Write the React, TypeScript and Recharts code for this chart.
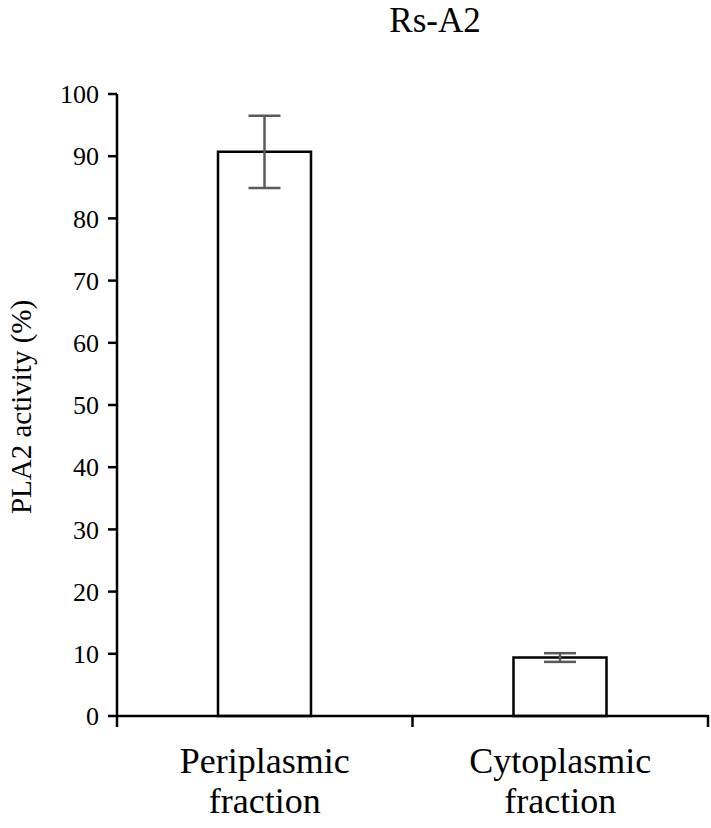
// Rs-A2 PLA2 活性柱状图（周质 vs 胞质）
import { BarChart, Bar, XAxis, YAxis, ErrorBar } from 'recharts'

const categories = ['Periplasmic fraction', 'Cytoplasmic fraction']
const activity = [90.7, 9.4]
const errors = [5.8, 0.7]
const yTicks = [0, 10, 20, 30, 40, 50, 60, 70, 80, 90, 100]

const data = categories.map((name, i) => ({ name, value: activity[i], err: errors[i] }))

const FONT = '"Liberation Serif", "Times New Roman", serif'

// 分类标签两行显示，刻度线画在分类边界上（由轴宽 / 分类数推出）
function CategoryTick(props: any) {
  const { x, y, payload, index, width, visibleTicksCount } = props
  const band = width / (visibleTicksCount || categories.length)
  const [l1, l2] = String(payload.value).split(' ')
  const isLast = index === (visibleTicksCount || categories.length) - 1
  return (
    <g>
      <line x1={x - band / 2} y1={y - 1} x2={x - band / 2} y2={y + 11} stroke="#000" strokeWidth={2.5} />
      {isLast && (
        <line x1={x + band / 2} y1={y - 1} x2={x + band / 2} y2={y + 11} stroke="#000" strokeWidth={2.5} />
      )}
      <text x={x} y={y + 57} textAnchor="middle" fontFamily={FONT} fontSize={36} fill="#000">{l1}</text>
      <text x={x} y={y + 97} textAnchor="middle" fontFamily={FONT} fontSize={36} fill="#000">{l2}</text>
    </g>
  )
}

function YLabel(props: any) {
  const { viewBox } = props
  const cx = 31
  const cy = viewBox.y + viewBox.height / 2 + 2
  return (
    <text x={cx} y={cy} transform={`rotate(-90, ${cx}, ${cy})`} textAnchor="middle"
      fontFamily={FONT} fontSize={29} fill="#000">
      PLA2 activity (%)
    </text>
  )
}

export default function App() {
  return (
    <div style={{ position: 'relative', width: 711, height: 828 }}>
      <style>{`body{margin:0}`}</style>
      <BarChart
        width={711}
        height={828}
        data={data}
        margin={{ top: 94, right: 3, left: 0, bottom: 0 }}
      >
        <XAxis
          dataKey="name"
          height={112}
          interval={0}
          axisLine={{ stroke: '#000', strokeWidth: 2.5 }}
          tickLine={false}
          tickSize={0}
          tickMargin={0}
          tick={<CategoryTick />}
        />
        <YAxis
          domain={[0, 100]}
          ticks={yTicks}
          interval={0}
          width={117}
          axisLine={{ stroke: '#000', strokeWidth: 2.5 }}
          tickLine={{ stroke: '#000', strokeWidth: 2.5 }}
          tickSize={9}
          tickMargin={9}
          tick={{ fontFamily: FONT, fontSize: 26, fill: '#000' }}
          label={<YLabel />}
        />
        <Bar
          dataKey="value"
          fill="#fff"
          stroke="#000"
          strokeWidth={2.5}
          barSize={93}
          isAnimationActive={false}
        >
          <ErrorBar dataKey="err" width={16} stroke="#5a5a5a" strokeWidth={2.5} isAnimationActive={false} />
        </Bar>
      </BarChart>
      <svg width={711} height={60} style={{ position: 'absolute', left: 0, top: 0 }}>
        <text x={435} y={32} textAnchor="middle" fontFamily={FONT} fontSize={35} fill="#000">Rs-A2</text>
      </svg>
    </div>
  )
}
